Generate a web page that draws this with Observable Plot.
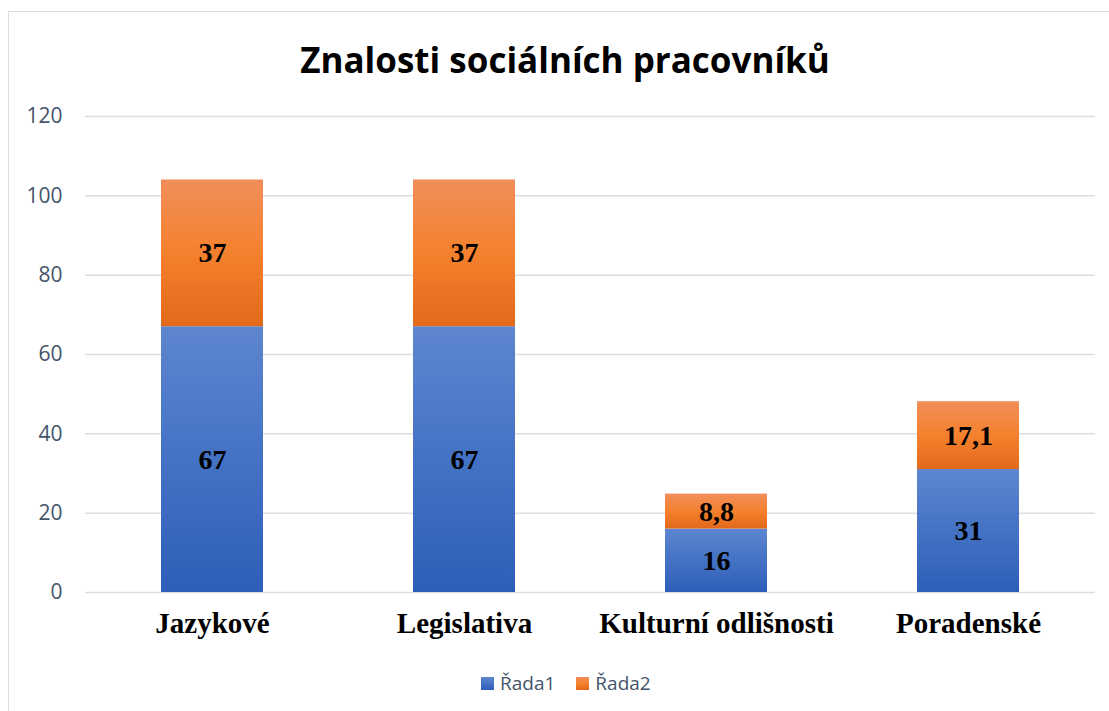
<!DOCTYPE html>
<html>
<head>
<meta charset="utf-8">
<script src="https://cdn.jsdelivr.net/npm/d3@7"></script>
<script src="https://cdn.jsdelivr.net/npm/@observablehq/plot@0.6"></script>
<style>
  html, body { margin: 0; padding: 0; background: #fff; overflow: hidden; }
  #wrap { position: relative; width: 1109px; height: 711px; overflow: hidden; }
  #frame { position: absolute; left: 8px; top: 11px; width: 1200px; height: 800px; border: 1.5px solid #d9dde4; box-sizing: border-box; }
  #title { position: absolute; left: 0; top: 34px; width: 1109px; padding-left: 21px; box-sizing: border-box; text-align: center;
           font-family: "Open Sans", sans-serif; font-weight: bold; font-size: 35px; color: #000; line-height: 52px; }
  #chart { position: absolute; left: 0; top: 100px; }
  #legend { position: absolute; left: 481px; top: 670px; display: flex; align-items: center; font-family: "Open Sans", sans-serif; font-size: 19px; color: #44546a; }
  .sw { width: 13px; height: 13px; display: inline-block; margin-right: 6px; }
  .item { display: flex; align-items: center; margin-right: 21px; }
</style>
</head>
<body>
<div id="wrap">
  <div id="frame"></div>
  <div id="title">Znalosti sociálních pracovníků</div>
  <div id="chart"></div>
  <div id="legend"></div>
</div>
<script>
const categories = ["Jazykové", "Legislativa", "Kulturní odlišnosti", "Poradenské"];
const series = ["Řada1", "Řada2"];
const rada1 = [67, 67, 16, 31];
const rada2 = [37, 37, 8.8, 17.1];
const yTicks = [0, 20, 40, 60, 80, 100, 120];

const gradients = {
  gradBlue: ["#5e86cf", "#4472c4", "#2e5eb8"],
  gradOrange: ["#f18e5a", "#f4812e", "#e2691a"]
};
const seriesFill = ["url(#gradBlue)", "url(#gradOrange)"];

const data = [];
categories.forEach((c, i) => {
  data.push({cat: c, series: series[0], value: rada1[i]});
  data.push({cat: c, series: series[1], value: rada2[i]});
});
const fmt = v => String(v).replace(".", ",");

const chart = Plot.plot({
  width: 1109,
  height: 560,
  marginTop: 16,
  marginBottom: 68,
  marginLeft: 85,
  marginRight: 14,
  x: {domain: categories, paddingInner: 0.596, paddingOuter: 0.298, align: 0.5},
  y: {domain: [0, 120]},
  color: {domain: series, range: seriesFill},
  marks: [
    Plot.gridY(yTicks, {stroke: "#d9dde4", strokeOpacity: 1, strokeWidth: 1.5}),
    Plot.barY(data, {x: "cat", y: "value", fill: "series"}),
    Plot.text(data, Plot.stackY({x: "cat", y: "value", text: d => fmt(d.value),
      fontSize: 28, fontWeight: "bold", fontFamily: "Liberation Serif", fill: "#000"})),
    Plot.axisY(yTicks, {tickSize: 0, tickPadding: 23, fontSize: 21, fontFamily: "Open Sans", fill: "#44546a", label: null}),
    Plot.axisX({tickSize: 0, tickPadding: 20, fontSize: 29, fontWeight: "bold", fontFamily: "Liberation Serif", fill: "#000", label: null})
  ]
});

// gradient defs
const ns = "http://www.w3.org/2000/svg";
const defs = document.createElementNS(ns, "defs");
for (const [id, stops] of Object.entries(gradients)) {
  const lg = document.createElementNS(ns, "linearGradient");
  lg.setAttribute("id", id);
  lg.setAttribute("x1", "0"); lg.setAttribute("y1", "0");
  lg.setAttribute("x2", "0"); lg.setAttribute("y2", "1");
  stops.forEach((c, k) => {
    const s = document.createElementNS(ns, "stop");
    s.setAttribute("offset", String(k / (stops.length - 1)));
    s.setAttribute("stop-color", c);
    lg.appendChild(s);
  });
  defs.appendChild(lg);
}
chart.insertBefore(defs, chart.firstChild);
document.getElementById("chart").appendChild(chart);

// legend
const legend = document.getElementById("legend");
series.forEach((s, i) => {
  const st = gradients[Object.keys(gradients)[i]];
  const item = document.createElement("div");
  item.className = "item";
  const sw = document.createElement("span");
  sw.className = "sw";
  sw.style.background = `linear-gradient(${st[0]}, ${st[1]}, ${st[2]})`;
  item.appendChild(sw);
  const t = document.createElement("span");
  t.textContent = s;
  item.appendChild(t);
  legend.appendChild(item);
});
</script>
</body>
</html>
